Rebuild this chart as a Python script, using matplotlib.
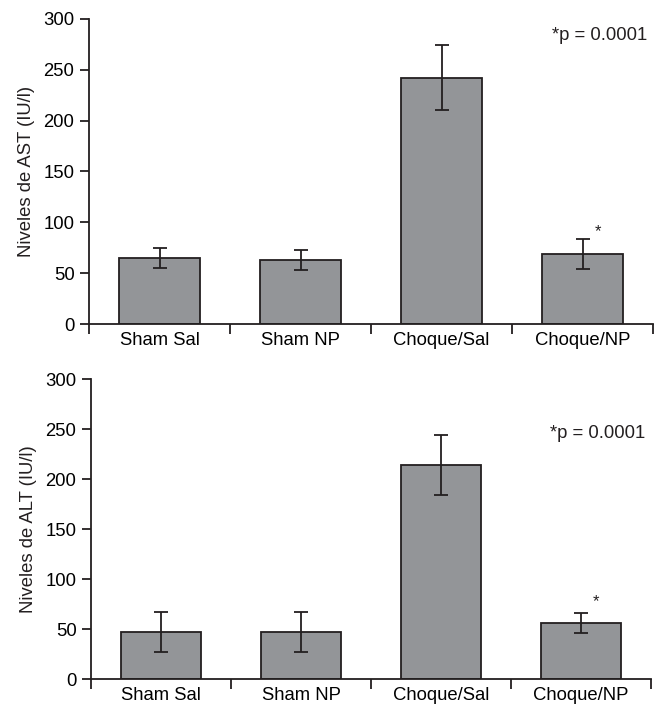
import matplotlib.pyplot as plt
import numpy as np

plt.rcParams['font.family'] = ['Liberation Sans', 'DejaVu Sans']

categories = ['Sham Sal', 'Sham NP', 'Choque/Sal', 'Choque/NP']

ast_mean = [65, 63, 242, 69]
ast_err = [10, 10, 32, 15]

alt_mean = [47, 47, 214, 56]
alt_err = [20, 20, 30, 10]

ylabels = ['Niveles de AST (IU/l)', 'Niveles de ALT (IU/l)']
pvalue_text = '*p = 0.0001'
star_y = [86, 73]
pvalue_y = [284, 246]

bar_color = '#939598'
edge_color = '#231f20'
fs = 13.3

fig = plt.figure(figsize=(6.55, 7.11), dpi=100)
ax_top = fig.add_axes([0.136, 0.5443, 0.861, 0.429])
ax_bot = fig.add_axes([0.139, 0.045, 0.855, 0.4215])

x = np.arange(len(categories))

for ax, means, errs, ylab, sy, py in [
        (ax_top, ast_mean, ast_err, ylabels[0], star_y[0], pvalue_y[0]),
        (ax_bot, alt_mean, alt_err, ylabels[1], star_y[1], pvalue_y[1])]:
    ax.bar(x, means, width=0.575, color=bar_color, edgecolor=edge_color,
           linewidth=1.3, zorder=2)
    ax.errorbar(x, means, yerr=errs, fmt='none', ecolor=edge_color,
                elinewidth=1.3, capsize=5, capthick=1.3, zorder=3)

    ax.set_xlim(-0.5, 3.5)
    ax.set_ylim(0, 300)
    ax.set_yticks([0, 50, 100, 150, 200, 250, 300])

    # boundary ticks without labels, category names as minor ticks
    ax.set_xticks([-0.5, 0.5, 1.5, 2.5, 3.5])
    ax.set_xticklabels([])
    ax.set_xticks(x, minor=True)
    ax.set_xticklabels(categories, minor=True, fontsize=fs)
    ax.tick_params(axis='x', which='minor', length=0, pad=6)
    ax.tick_params(axis='x', which='major', length=7, width=1.3,
                   color=edge_color)
    ax.tick_params(axis='y', length=6.5, width=1.3, color=edge_color,
                   labelsize=fs, pad=4)

    for side in ['top', 'right']:
        ax.spines[side].set_visible(False)
    for side in ['left', 'bottom']:
        ax.spines[side].set_linewidth(1.3)
        ax.spines[side].set_color(edge_color)

    ax.set_ylabel(ylab, fontsize=fs, labelpad=6, color=edge_color)

    ax.text(3.11, sy, '*', ha='center', va='baseline', fontsize=12,
            color=edge_color)
    ax.text(3.46, py, pvalue_text, ha='right', va='center', fontsize=fs,
            color=edge_color)

plt.savefig('out.png', dpi=100)
